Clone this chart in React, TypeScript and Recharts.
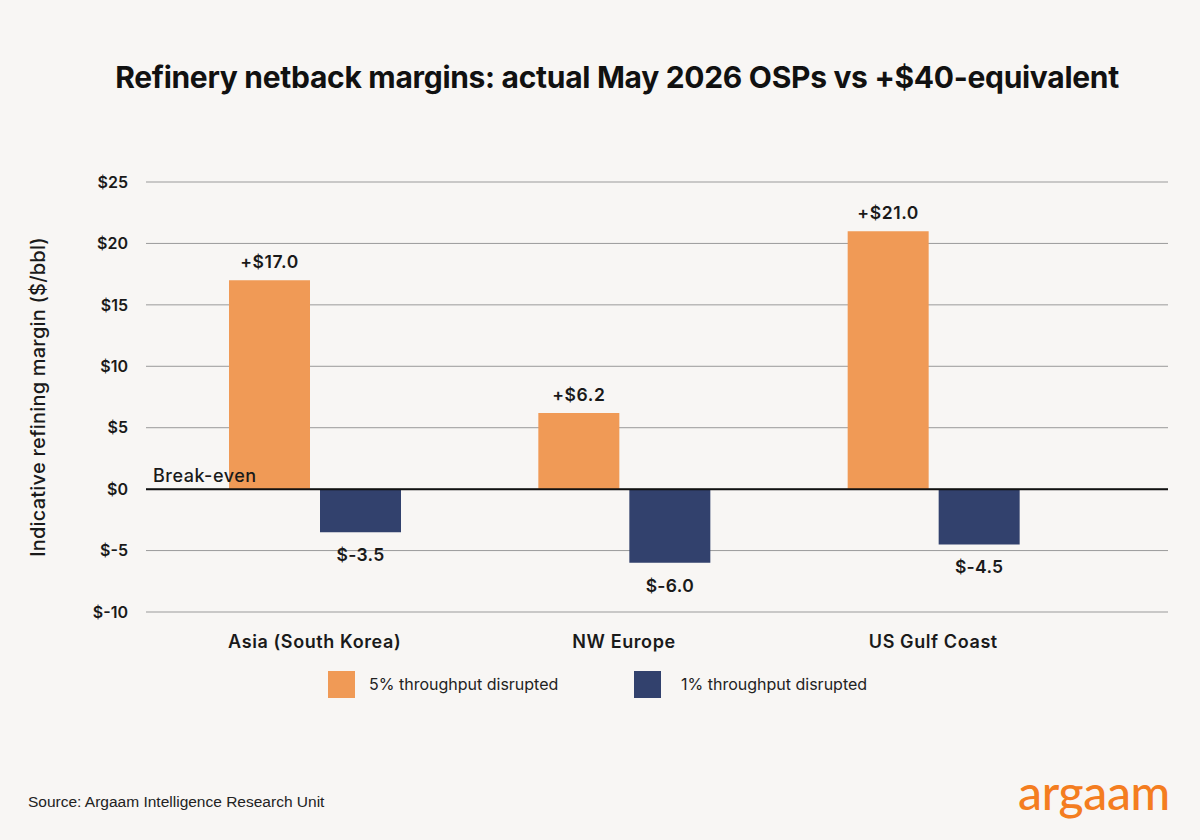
import React from 'react';
import { BarChart, Bar, XAxis, YAxis, CartesianGrid, ReferenceLine, LabelList, Legend } from 'recharts';

const regions = ['Asia (South Korea)', 'NW Europe', 'US Gulf Coast'];
const fivePct = [17.0, 6.2, 21.0];
const onePct = [-3.5, -6.0, -4.5];
const yTicks = [-10, -5, 0, 5, 10, 15, 20, 25];
const seriesNames = ['5% throughput disrupted', '1% throughput disrupted'];

const data = regions.map((r, i) => ({ region: r, five: fivePct[i], one: onePct[i] }));

const BG = '#F8F6F4';
const ORANGE = '#F09A56';
const NAVY = '#32416D';
const FONT = 'Inter, "Noto Sans", sans-serif';

const TopLabel = (props: any) => {
  const { x, y, width, height, value } = props;
  const top = Math.min(y, y + height);
  return (
    <text x={x + width / 2} y={top - 12} textAnchor="middle" fontFamily={FONT} fontSize={17.5} fontWeight={600} letterSpacing={0.6} fill="#1a1a1a">
      {`+$${Number(value).toFixed(1)}`}
    </text>
  );
};

const BottomLabel = (props: any) => {
  const { x, y, width, height, value } = props;
  const bottom = Math.max(y, y + height);
  return (
    <text x={x + width / 2} y={bottom + 29} textAnchor="middle" fontFamily={FONT} fontSize={17.5} fontWeight={600} letterSpacing={0.3} fill="#1a1a1a">
      {`$${Number(value).toFixed(1)}`}
    </text>
  );
};

const LegendContent = () => (
  <div style={{ position: 'relative', width: 1200, height: 30, fontFamily: FONT }}>
    <div style={{ position: 'absolute', left: 328, top: 3, width: 27, height: 27, background: ORANGE }} />
    <div style={{ position: 'absolute', left: 369, top: 5, fontSize: 16, color: '#222', lineHeight: '22px' }}>{seriesNames[0]}</div>
    <div style={{ position: 'absolute', left: 634, top: 3, width: 27, height: 27, background: NAVY }} />
    <div style={{ position: 'absolute', left: 681, top: 5, fontSize: 16, color: '#222', lineHeight: '22px' }}>{seriesNames[1]}</div>
  </div>
);

export default function App() {
  return (
    <div style={{ position: 'absolute', left: 0, top: 0, width: 1200, height: 840, background: BG, overflow: 'hidden' }}>
      <div style={{ position: 'absolute', left: 17, top: 59, width: 1200, textAlign: 'center', fontFamily: FONT, fontWeight: 700, fontSize: 30, color: '#111', letterSpacing: -0.3, lineHeight: '36px' }}>
        Refinery netback margins: actual May 2026 OSPs vs +$40-equivalent
      </div>
      <BarChart
        width={1200}
        height={840}
        data={data}
        margin={{ top: 182, right: 32, bottom: 198, left: 60 }}
        barSize={81}
        barGap={10}
        style={{ position: 'absolute', left: 0, top: 0 }}
      >
        <CartesianGrid vertical={false} stroke="#9a9a9a" strokeWidth={1} />
        <XAxis
          dataKey="region"
          tickLine={false}
          axisLine={false}
          tickSize={0}
          tickMargin={23}
          padding={{ left: 14, right: 80 }}
          tick={{ fontFamily: FONT, fontSize: 18, fontWeight: 600, fill: '#1a1a1a', letterSpacing: 0.6 }}
        />
        <YAxis
          width={86}
          domain={[-10, 25]}
          ticks={yTicks}
          interval={0}
          tickLine={false}
          axisLine={false}
          tickSize={0}
          tickMargin={18}
          tickFormatter={(v: number) => `$${v}`}
          tick={{ fontFamily: FONT, fontSize: 16, fontWeight: 600, fill: '#1a1a1a' }}
          label={{ value: 'Indicative refining margin ($/bbl)', angle: -90, position: 'left', offset: 22, style: { fontFamily: FONT, fontSize: 20, fontWeight: 500, fill: '#1a1a1a', textAnchor: 'middle', letterSpacing: 0.2 } }}
        />
        <Legend layout="horizontal" verticalAlign="middle" align="center" content={LegendContent} wrapperStyle={{ top: 668, left: 0, width: 1200 }} />
        <Bar dataKey="five" name={seriesNames[0]} fill={ORANGE} isAnimationActive={false}>
          <LabelList dataKey="five" content={TopLabel} />
        </Bar>
        <Bar dataKey="one" name={seriesNames[1]} fill={NAVY} isAnimationActive={false}>
          <LabelList dataKey="one" content={BottomLabel} />
        </Bar>
        <ReferenceLine
          y={0}
          stroke="#111"
          strokeWidth={2}
          label={{ value: 'Break-even', position: 'insideBottomLeft', offset: 7, style: { fontFamily: FONT, fontSize: 18, fontWeight: 500, fill: '#1a1a1a', letterSpacing: 0.5 } }}
        />
      </BarChart>
      <div style={{ position: 'absolute', left: 28, top: 793, fontFamily: '"Liberation Sans", Arial, sans-serif', fontSize: 15.5, color: '#222' }}>
        Source: Argaam Intelligence Research Unit
      </div>
      <div style={{ position: 'absolute', left: 1018, top: 766, fontFamily: '"Lato", "Noto Sans", sans-serif', fontSize: 48, fontWeight: 500, color: '#F47D20', letterSpacing: -0.3, lineHeight: '52px' }}>
        argaam
      </div>
    </div>
  );
}
